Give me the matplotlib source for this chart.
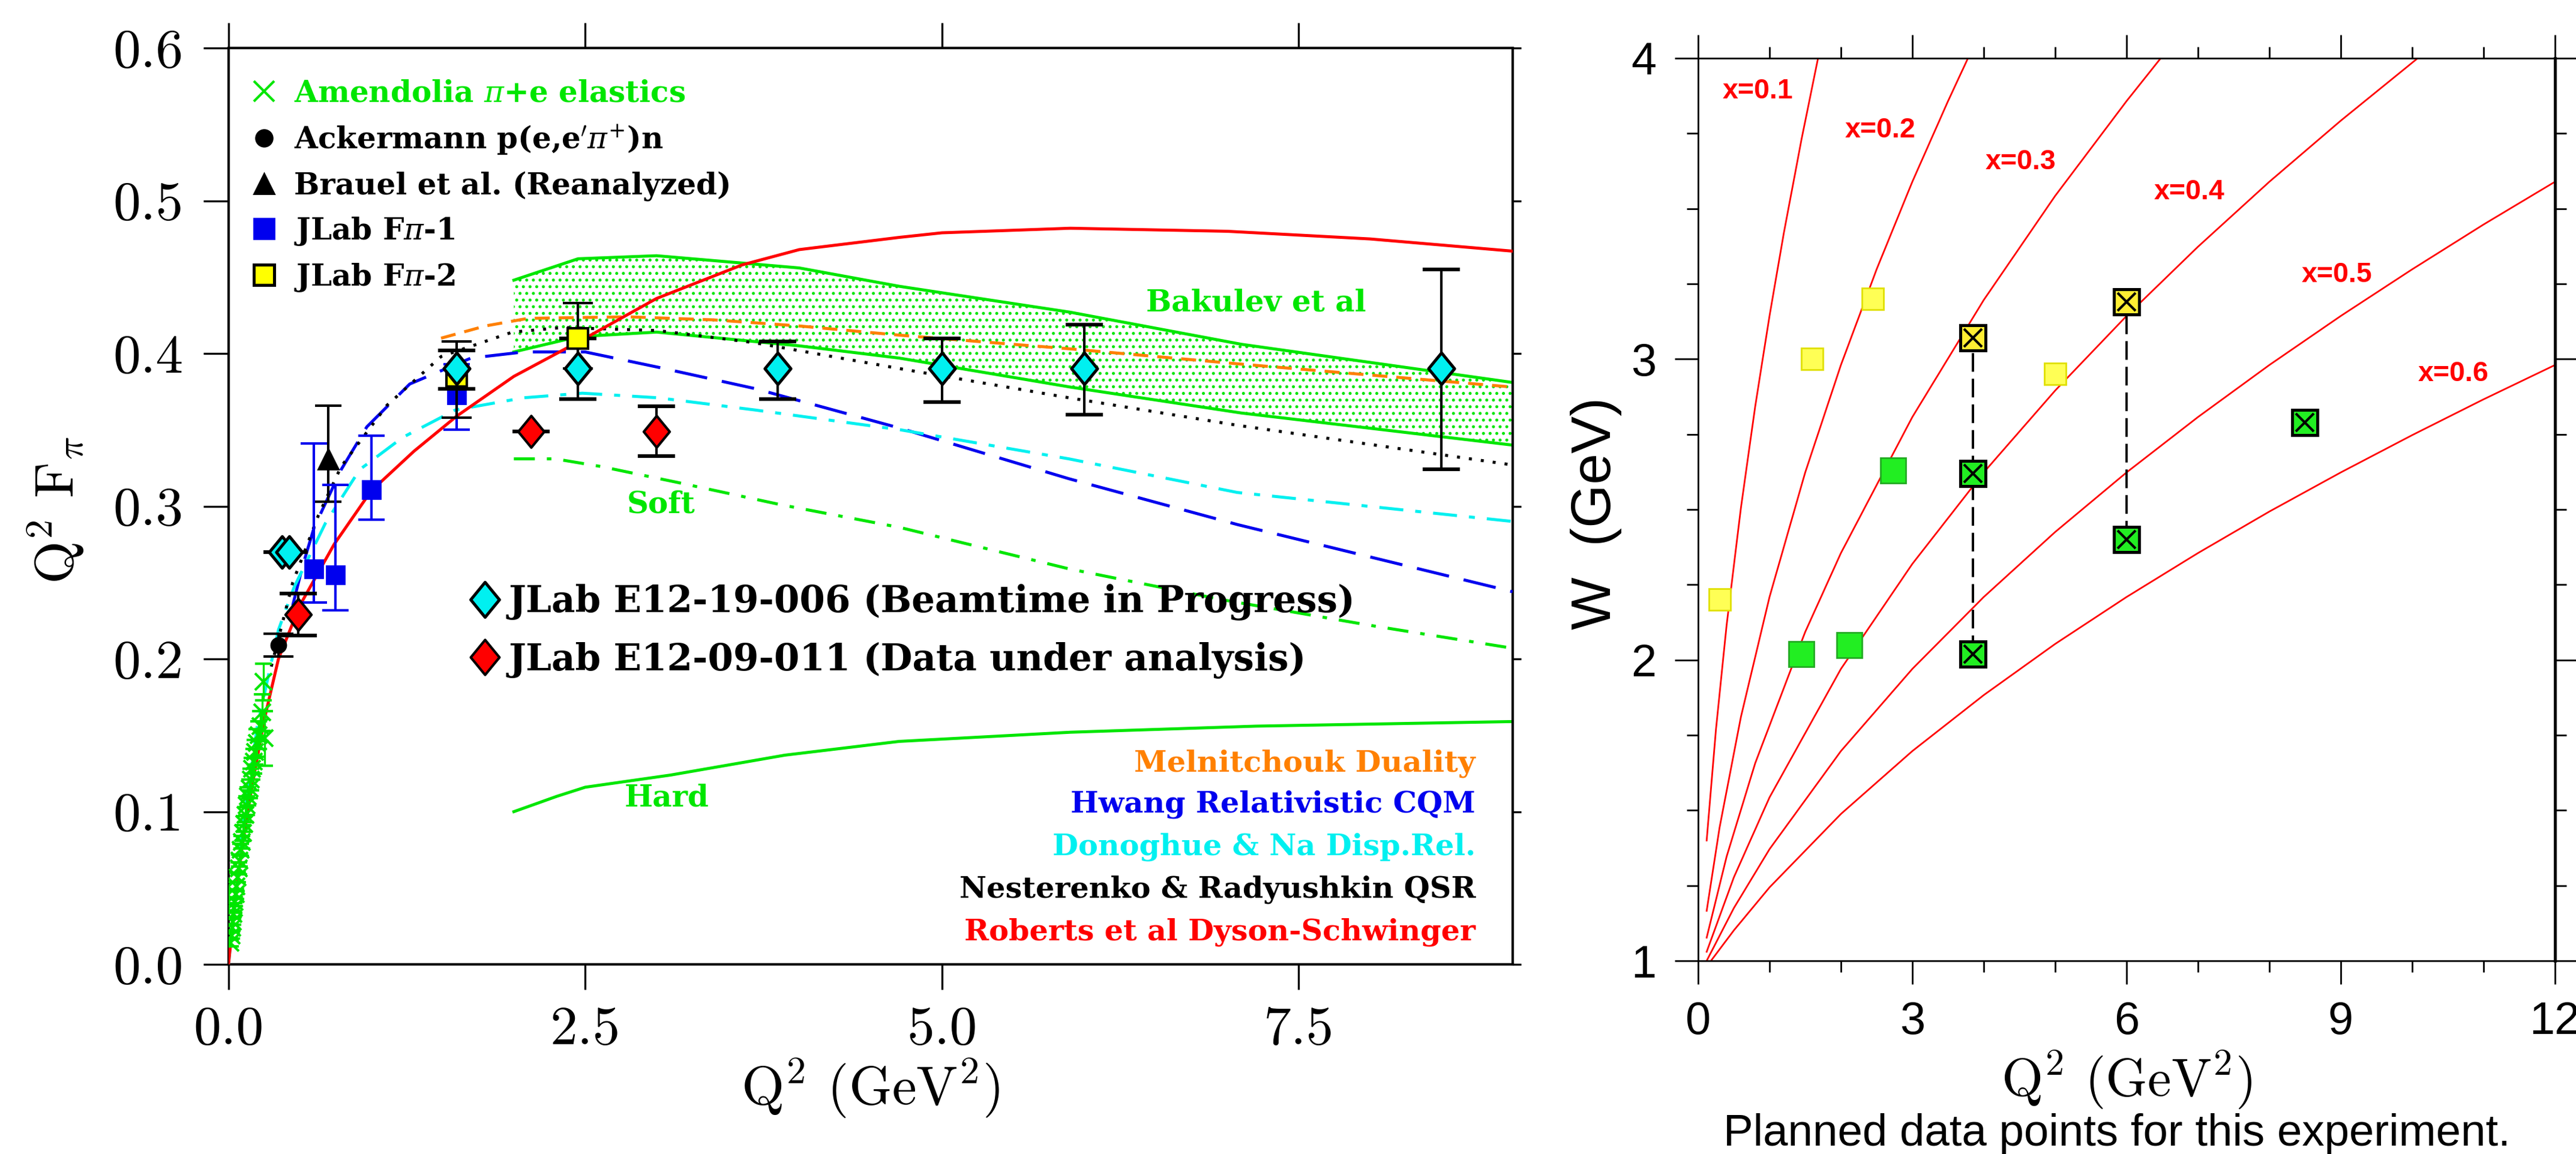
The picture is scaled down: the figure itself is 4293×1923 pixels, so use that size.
import numpy as np
import matplotlib
matplotlib.use('Agg')
import matplotlib.pyplot as plt
from matplotlib.lines import Line2D
from matplotlib.path import Path
from matplotlib.font_manager import FontProperties, findfont

# ---------------- left panel data : Q^2 F_pi vs Q^2 ----------------
amen_q2 = [0.015, 0.020, 0.025, 0.030, 0.035, 0.040, 0.045, 0.050, 0.057, 0.064,
           0.071, 0.078, 0.086, 0.094, 0.102, 0.110, 0.119, 0.128, 0.137, 0.146,
           0.156, 0.166, 0.176, 0.187, 0.198, 0.210, 0.222, 0.235, 0.245, 0.253]
amen_f = [0.014, 0.019, 0.024, 0.028, 0.033, 0.037, 0.041, 0.046, 0.051, 0.057,
          0.063, 0.068, 0.075, 0.080, 0.086, 0.092, 0.098, 0.104, 0.110, 0.115,
          0.121, 0.128, 0.133, 0.139, 0.145, 0.150, 0.156, 0.165, 0.185, 0.148]
amen_err = [0.002, 0.002, 0.002, 0.002, 0.002, 0.003, 0.003, 0.003, 0.003, 0.003,
            0.004, 0.004, 0.004, 0.004, 0.005, 0.005, 0.005, 0.006, 0.006, 0.006,
            0.007, 0.007, 0.008, 0.008, 0.009, 0.009, 0.010, 0.012, 0.012, 0.018]

ack_q2 = [0.35]
ack_f = [0.209]
ack_err = [0.0075]

brauel_q2 = [0.70]
brauel_f = [0.331]
brauel_lo = [0.028]
brauel_hi = [0.035]

fpi1_q2 = [0.60, 0.75, 1.00, 1.60]
fpi1_f = [0.259, 0.255, 0.311, 0.373]
fpi1_lo = [0.022, 0.023, 0.020, 0.023]
fpi1_hi = [0.082, 0.059, 0.035, 0.020]

fpi2_q2 = [1.60, 2.45]
fpi2_f = [0.385, 0.410]
fpi2_lo = [0.027, 0.020]
fpi2_hi = [0.023, 0.023]

e1219_q2 = [0.375, 0.425, 1.60, 2.45, 3.85, 5.0, 6.0, 8.5]
e1219_f = [0.270, 0.270, 0.390, 0.390, 0.390, 0.390, 0.390, 0.390]
e1219_lo = [0.0, 0.0, 0.013, 0.020, 0.020, 0.022, 0.030, 0.066]
e1219_hi = [0.0, 0.0, 0.012, 0.020, 0.018, 0.020, 0.029, 0.065]

e0911_q2 = [0.49, 2.12, 3.0]
e0911_f = [0.229, 0.349, 0.349]
e0911_lo = [0.0135, 0.0, 0.016]
e0911_hi = [0.014, 0.0, 0.0165]

# theory curves
melni_q2 = [1.49, 1.8, 2.1, 2.8, 3.4, 4.0, 4.7, 5.9, 7.1, 9.0]
melni_f = [0.410, 0.418, 0.423, 0.424, 0.422, 0.418, 0.412, 0.403, 0.393, 0.378]

hwang_q2 = [0.45, 0.52, 0.60, 0.79, 0.97, 1.27, 1.70, 2.07, 2.50, 3.01, 3.69, 4.71, 5.89, 7.07, 9.0]
hwang_f = [0.235, 0.261, 0.286, 0.324, 0.352, 0.380, 0.397, 0.401, 0.401, 0.391, 0.377, 0.351, 0.318, 0.288, 0.244]

dono_q2 = [0.0, 0.10, 0.20, 0.35, 0.46, 0.68, 0.92, 1.22, 1.59, 2.07, 2.48, 3.01, 3.69, 4.71, 5.89, 7.07, 9.0]
dono_f = [0.0, 0.090, 0.155, 0.219, 0.247, 0.289, 0.324, 0.345, 0.363, 0.371, 0.374, 0.371, 0.363, 0.350, 0.331, 0.309, 0.290]

nest_q2 = [0.30, 0.45, 0.63, 0.79, 1.11, 1.49, 1.99, 2.34, 3.01, 3.69, 4.71, 5.89, 7.07, 9.0]
nest_f = [0.195, 0.250, 0.294, 0.326, 0.366, 0.398, 0.414, 0.417, 0.415, 0.407, 0.390, 0.371, 0.353, 0.327]

roberts_q2 = [0.0, 0.05, 0.10, 0.16, 0.25, 0.35, 0.50, 0.74, 1.0, 1.3, 1.6, 2.0, 2.5,
              3.0, 3.6, 4.0, 4.7, 5.0, 5.9, 7.0, 8.0, 9.0]
roberts_f = [0.0, 0.045, 0.080, 0.114, 0.160, 0.200, 0.235, 0.275, 0.310, 0.336, 0.359, 0.385, 0.410,
             0.436, 0.458, 0.468, 0.476, 0.479, 0.482, 0.480, 0.475, 0.467]

bak_q2 = [2.0, 2.45, 3.0, 4.0, 4.7, 5.9, 7.1, 9.0]
bak_hi = [0.448, 0.462, 0.464, 0.456, 0.444, 0.427, 0.406, 0.381]
bak_lo = [0.401, 0.411, 0.414, 0.405, 0.397, 0.378, 0.361, 0.340]

soft_q2 = [2.0, 2.29, 2.61, 3.15, 3.87, 4.71, 5.89, 6.98, 8.0, 9.0]
soft_f = [0.331, 0.331, 0.326, 0.3155, 0.301, 0.286, 0.259, 0.2385, 0.222, 0.207]

hard_q2 = [2.0, 2.3, 2.5, 3.1, 3.9, 4.7, 5.9, 7.2, 9.0]
hard_f = [0.100, 0.110, 0.116, 0.124, 0.137, 0.146, 0.152, 0.156, 0.159]

theory_labels = ['Melnitchouk Duality', 'Hwang Relativistic CQM', 'Donoghue & Na Disp.Rel.',
                 'Nesterenko & Radyushkin QSR', 'Roberts et al Dyson-Schwinger']
theory_colors = ['#ff8000', '#0000ee', '#00f0f0', 'black', '#ff0000']

# ---------------- right panel data : W vs Q^2 ----------------
xb_labels = ['x=0.1', 'x=0.2', 'x=0.3', 'x=0.4', 'x=0.5', 'x=0.6']
xb_q2 = [
    [0.12, 0.25, 0.4, 0.6, 0.8, 1.0, 1.2, 1.45, 1.68],
    [0.12, 0.3, 0.6, 1.0, 1.5, 2.0, 2.5, 3.0, 3.5, 3.78],
    [0.12, 0.4, 0.8, 1.5, 2.0, 3.0, 4.0, 5.0, 6.0, 6.48],
    [0.12, 0.5, 1.0, 2.0, 3.0, 4.0, 5.0, 6.0, 7.0, 8.0, 9.0, 10.08],
    [0.12, 0.5, 1, 2, 3, 4, 5, 6, 7, 8, 9, 10, 11, 12],
    [0.18, 0.5, 1, 2, 3, 4, 5, 6, 7, 8, 9, 10, 11, 12],
]
xb_w = [
    [1.400, 1.769, 2.117, 2.506, 2.843, 3.143, 3.418, 3.732, 4.000],
    [1.166, 1.442, 1.811, 2.209, 2.623, 2.980, 3.298, 3.589, 3.857, 4.000],
    [1.077, 1.347, 1.657, 2.093, 2.355, 2.807, 3.196, 3.542, 3.857, 4.000],
    [1.030, 1.277, 1.543, 1.970, 2.319, 2.623, 2.895, 3.143, 3.373, 3.589, 3.792, 4.000],
    [1.000, 1.175, 1.371, 1.697, 1.970, 2.209, 2.425, 2.623, 2.807, 2.980, 3.143, 3.298, 3.447, 3.589],
    [1.000, 1.101, 1.244, 1.488, 1.697, 1.883, 2.053, 2.209, 2.355, 2.493, 2.623, 2.747, 2.866, 2.980],
]
xb_label_q2 = [0.84, 2.55, 4.52, 6.88, 8.95, 10.58]
xb_label_w = [3.89, 3.76, 3.655, 3.555, 3.28, 2.95]

yel_q2 = [0.30, 1.60, 2.45, 5.0]
yel_w = [2.20, 3.00, 3.20, 2.95]
grn_q2 = [1.45, 2.12, 2.73]
grn_w = [2.02, 2.05, 2.63]
yelx_q2 = [3.85, 6.0]
yelx_w = [3.07, 3.19]
grnx_q2 = [3.85, 3.85, 6.0, 8.5]
grnx_w = [2.02, 2.62, 2.40, 2.79]
scan_q2 = [3.85, 6.0]
scan_lo = [2.02, 2.40]
scan_hi = [3.07, 3.19]

# ---------------- styling ----------------
GREEN = '#00e600'
CYAN = '#00f0f0'
SERIF = 'DejaVu Serif'

# narrow sans if we have it, else plain Liberation Sans a bit smaller
try:
    findfont(FontProperties(family='Liberation Sans Narrow'), fallback_to_default=False)
    NARROW, nscale = 'Liberation Sans Narrow', 1.0
except Exception:
    NARROW, nscale = 'Liberation Sans', 0.88

diamond = Path([(0, 1), (0.82, 0), (0, -1), (-0.82, 0), (0, 1)],
               [Path.MOVETO, Path.LINETO, Path.LINETO, Path.LINETO, Path.CLOSEPOLY])

fig = plt.figure(figsize=(21.465, 9.615), dpi=200)
ax1 = fig.add_axes([0.0887, 0.1643, 0.4985, 0.7941])
ax2 = fig.add_axes([0.6592, 0.1674, 0.3326, 0.7822])

# ===== left panel =====
ax1.fill_between(bak_q2, bak_lo, bak_hi, facecolor='none', edgecolor=GREEN,
                 hatch='...', linewidth=0, zorder=1)
ax1.plot(bak_q2, bak_hi, color=GREEN, lw=1.8, zorder=2)
ax1.plot(bak_q2, bak_lo, color=GREEN, lw=1.8, zorder=2)
ax1.plot(soft_q2, soft_f, color=GREEN, lw=1.8, dashes=(7, 4, 1.5, 4), zorder=2)
ax1.plot(hard_q2, hard_f, color=GREEN, lw=1.8, zorder=2)

ax1.plot(melni_q2, melni_f, color=theory_colors[0], lw=1.8, dashes=(5, 3), zorder=3)
ax1.plot(hwang_q2, hwang_f, color=theory_colors[1], lw=1.8, dashes=(11, 5), zorder=3)
ax1.plot(dono_q2, dono_f, color=theory_colors[2], lw=1.8, dashes=(8, 4, 2, 4), zorder=3)
ax1.plot(nest_q2, nest_f, color=theory_colors[3], lw=1.8, dashes=(1, 3), zorder=3)
ax1.plot(roberts_q2, roberts_f, color=theory_colors[4], lw=1.8, zorder=3)

ax1.errorbar(amen_q2, amen_f, yerr=amen_err, fmt='x', color=GREEN, ms=10, mew=1.5,
             elinewidth=1.2, capsize=5, zorder=4)
ax1.errorbar(ack_q2, ack_f, yerr=ack_err, fmt='o', color='black', ms=9,
             elinewidth=1.5, capsize=9, capthick=1.5, zorder=5)
ax1.errorbar(brauel_q2, brauel_f, yerr=[brauel_lo, brauel_hi], fmt='^', color='black', ms=12,
             elinewidth=1.5, capsize=8, capthick=1.5, zorder=5)
ax1.errorbar(fpi1_q2, fpi1_f, yerr=[fpi1_lo, fpi1_hi], fmt='s', color='#0000ee', ms=11,
             elinewidth=1.5, capsize=8, capthick=1.5, zorder=5)
ax1.errorbar(fpi2_q2, fpi2_f, yerr=[fpi2_lo, fpi2_hi], fmt='s', mfc='#ffff00', mec='black', mew=1.5,
             ecolor='black', ms=12, elinewidth=1.5, capsize=9, capthick=1.5, zorder=6)
ax1.errorbar(e1219_q2, e1219_f, yerr=[e1219_lo, e1219_hi], fmt='none', ecolor='black',
             elinewidth=1.5, capsize=11, capthick=2.2, zorder=6)
ax1.plot(e1219_q2, e1219_f, ls='none', marker=diamond, ms=19, mfc=CYAN, mec='black', mew=1.8, zorder=7)
ax1.errorbar(e0911_q2, e0911_f, yerr=[e0911_lo, e0911_hi], fmt='none', ecolor='black',
             elinewidth=1.5, capsize=11, capthick=2.2, zorder=6)
ax1.plot(e0911_q2, e0911_f, ls='none', marker=diamond, ms=19, mfc='#ff0000', mec='black', mew=1.5, zorder=7)

# data legend (top left)
leg_prop = FontProperties(family=SERIF, size=18, weight='bold', math_fontfamily='dejavuserif')
handles1 = [
    Line2D([], [], ls='none', marker='x', color=GREEN, ms=12, mew=1.5),
    Line2D([], [], ls='none', marker='o', color='black', ms=10),
    Line2D([], [], ls='none', marker='^', color='black', ms=12),
    Line2D([], [], ls='none', marker='s', color='#0000ee', ms=12),
    Line2D([], [], ls='none', marker='s', mfc='#ffff00', mec='black', mew=1.8, ms=12),
]
labels1 = [r'Amendolia $\pi$+e elastics', r"Ackermann p(e,e$'\pi^{+}$)n",
           'Brauel et al. (Reanalyzed)', r'JLab F$\pi$-1', r'JLab F$\pi$-2']
leg1 = ax1.legend(handles1, labels1, loc='upper left', bbox_to_anchor=(0.016, 0.966),
                  frameon=False, prop=leg_prop, handlelength=1.0, handletextpad=0.5,
                  borderpad=0, borderaxespad=0, labelspacing=0.48,
                  labelcolor=[GREEN, 'black', 'black', 'black', 'black'])
ax1.add_artist(leg1)

leg2_prop = FontProperties(family=SERIF, size=22, weight='bold')
handles2 = [
    Line2D([], [], ls='none', marker=diamond, mfc=CYAN, mec='black', mew=1.8, ms=21),
    Line2D([], [], ls='none', marker=diamond, mfc='#ff0000', mec='black', mew=1.5, ms=21),
]
labels2 = ['JLab E12-19-006 (Beamtime in Progress)', 'JLab E12-09-011 (Data under analysis)']
ax1.legend(handles2, labels2, loc='upper left', bbox_to_anchor=(0.191, 0.415),
           frameon=False, prop=leg2_prop, handlelength=0.6, handletextpad=0.35,
           borderpad=0, borderaxespad=0, labelspacing=0.58)

# curve annotations
ax1.text(7.2, 0.433, 'Bakulev et al', color=GREEN, fontsize=18, family=SERIF, weight='bold',
         ha='center', va='center')
ax1.text(3.03, 0.301, 'Soft', color=GREEN, fontsize=18, family=SERIF, weight='bold',
         ha='center', va='center')
ax1.text(3.07, 0.109, 'Hard', color=GREEN, fontsize=18, family=SERIF, weight='bold',
         ha='center', va='center')
theory_y = [0.1316, 0.105, 0.077, 0.049, 0.0212]
for lab, col, yy in zip(theory_labels, theory_colors, theory_y):
    ax1.text(8.74, yy, lab, color=col, fontsize=17.8, family=SERIF, weight='bold',
             ha='right', va='center')

ax1.set_xlim(0, 9.0)
ax1.set_ylim(0, 0.6)
ax1.set_xticks([0.0, 2.5, 5.0, 7.5])
ax1.set_xticklabels(['0.0', '2.5', '5.0', '7.5'])
ax1.set_yticks([0.0, 0.1, 0.2, 0.3, 0.4, 0.5, 0.6])
ax1.set_yticklabels(['0.0', '0.1', '0.2', '0.3', '0.4', '0.5', '0.6'])
ax1.tick_params(direction='out', length=15, width=1.2, top=True, right=True,
                labelsize=33, labelfontfamily='cmr10')
ax1.tick_params(axis='x', pad=10)
ax1.tick_params(axis='y', pad=12)
for t in ax1.yaxis.get_major_ticks():
    t.tick2line.set_markersize(5)
for sp in ax1.spines.values():
    sp.set_linewidth(1.5)
ax1.set_xlabel(r'Q$^2$ (GeV$^2$)', fontsize=33, family='cmr10', math_fontfamily='cm', va='top')
ax1.xaxis.set_label_coords(0.5, -0.101)
ax1.set_ylabel(r'Q$^2$ F$_\pi$', fontsize=33, family='cmr10', math_fontfamily='cm')
ax1.yaxis.set_label_coords(-0.111, 0.496)

# ===== right panel =====
for q2, w in zip(xb_q2, xb_w):
    ax2.plot(q2, w, color='#ff0000', lw=1.0, zorder=2)
for lab, lq, lw_ in zip(xb_labels, xb_label_q2, xb_label_w):
    ax2.text(lq, lw_, lab, color='#ff0000', fontsize=19 * nscale, family=NARROW, weight='bold',
             ha='center', va='center')

ax2.vlines(scan_q2, scan_lo, scan_hi, colors='black', linestyles=(0, (8, 3)), lw=1.4, zorder=3)
ax2.plot(yel_q2, yel_w, ls='none', marker='s', ms=13, mfc='#ffff55', mec='#e0e000', mew=1.0, zorder=4)
ax2.plot(grn_q2, grn_w, ls='none', marker='s', ms=15, mfc='#22ee22', mec='#22aa22', mew=1.0, zorder=4)
ax2.plot(yelx_q2, yelx_w, ls='none', marker='s', ms=15, mfc='#ffee33', mec='black', mew=1.8, zorder=4)
ax2.plot(yelx_q2, yelx_w, ls='none', marker='x', ms=11, mec='black', mew=1.5, zorder=5)
ax2.plot(grnx_q2, grnx_w, ls='none', marker='s', ms=15, mfc='#22ee22', mec='black', mew=1.8, zorder=4)
ax2.plot(grnx_q2, grnx_w, ls='none', marker='x', ms=11, mec='black', mew=1.5, zorder=5)

ax2.set_xlim(0, 12)
ax2.set_ylim(1, 4)
ax2.set_xticks([0, 3, 6, 9, 12])
ax2.set_xticks([1, 2, 4, 5, 7, 8, 10, 11], minor=True)
ax2.set_yticks([1, 2, 3, 4])
ax2.set_yticks([1.25, 1.5, 1.75, 2.25, 2.5, 2.75, 3.25, 3.5, 3.75], minor=True)
ax2.tick_params(which='major', direction='out', length=14, width=1.0, top=True, right=True,
                labelsize=31 * nscale, labelfontfamily=NARROW)
ax2.tick_params(which='minor', direction='out', length=7, width=1.0, top=True, right=True)
ax2.tick_params(axis='x', pad=10)
ax2.tick_params(axis='y', pad=11)
for sp in ax2.spines.values():
    sp.set_linewidth(1.0)
ax2.spines['right'].set_linewidth(1.8)
ax2.set_xlabel(r'Q$^2$ (GeV$^2$)', fontsize=32, family='cmr10', math_fontfamily='cm', va='top')
ax2.xaxis.set_label_coords(0.5, -0.098)
ax2.set_ylabel('W  (GeV)', fontsize=38 * nscale, family=NARROW)
ax2.yaxis.set_label_coords(-0.089, 0.496)

fig.text(0.8218, 0.0172, 'Planned data points for this experiment.', fontsize=30.5 * nscale,
         family=NARROW, ha='center', va='center')

fig.savefig('out.png', dpi=200)
